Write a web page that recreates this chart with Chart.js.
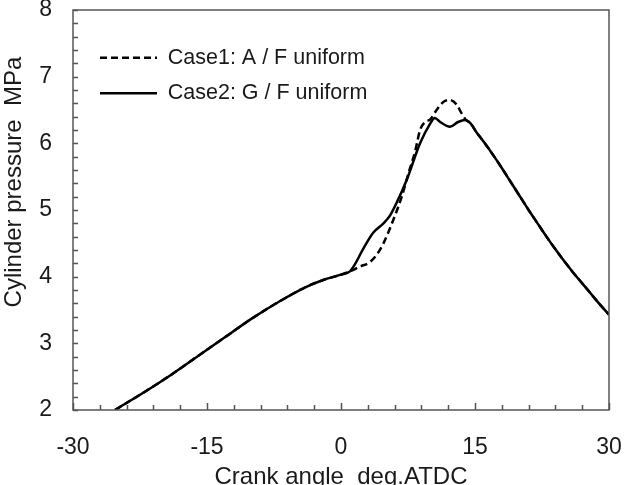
<!DOCTYPE html>
<html>
<head>
<meta charset="utf-8">
<script src="https://cdn.jsdelivr.net/npm/chart.js@4.4.0/dist/chart.umd.min.js"></script>
<style>
  html, body { margin: 0; padding: 0; overflow: hidden; background: #fff; }
</style>
</head>
<body>
<canvas id="pressure" width="628" height="492"></canvas>
<script>
// Crank angle (deg ATDC) and cylinder pressure (MPa)
const angleCase1 = [-25.3, -22, -19, -16, -13, -10, -7, -4, -2, 0, 1, 2.1, 3.25, 4.0, 4.75, 5.85, 6.8, 7.55, 8.3, 8.85, 9.4, 10.0, 10.7, 11.45, 12.2, 12.95, 13.5, 14.0, 14.5, 15.2, 16, 17, 18, 19, 20, 21, 22, 23, 24, 25, 26, 27, 28, 29, 30];
const pressureCase1 = [2.0, 2.27, 2.53, 2.81, 3.09, 3.37, 3.62, 3.84, 3.95, 4.03, 4.08, 4.15, 4.22, 4.33, 4.5, 4.85, 5.2, 5.55, 5.88, 6.2, 6.32, 6.36, 6.5, 6.62, 6.65, 6.58, 6.45, 6.35, 6.3, 6.16, 6.02, 5.83, 5.63, 5.42, 5.21, 5.0, 4.8, 4.6, 4.41, 4.23, 4.06, 3.9, 3.74, 3.58, 3.43];

const angleCase2 = [-25.3, -22, -19, -16, -13, -10, -7, -4, -2, 0, 1, 1.4, 2.5, 3.6, 4.75, 5.5, 6.2, 7.35, 8.85, 10.0, 10.5, 11.1, 12.2, 13.1, 13.9, 14.5, 15.2, 16, 17, 18, 19, 20, 21, 22, 23, 24, 25, 26, 27, 28, 29, 30];
const pressureCase2 = [2.0, 2.27, 2.53, 2.81, 3.09, 3.37, 3.62, 3.84, 3.95, 4.03, 4.08, 4.15, 4.42, 4.66, 4.8, 4.92, 5.1, 5.45, 6.0, 6.3, 6.38, 6.32, 6.25, 6.32, 6.35, 6.3, 6.16, 6.02, 5.83, 5.63, 5.42, 5.21, 5.0, 4.8, 4.6, 4.41, 4.23, 4.06, 3.9, 3.74, 3.58, 3.43];

const seriesLabels = ['Case1: A / F uniform', 'Case2: G / F uniform'];

const fontFamily = "'Liberation Sans', Arial, sans-serif";

const toPoints = (xs, ys) => xs.map((x, i) => ({ x: x, y: ys[i] }));

// inward tick marks and the frame round the plot area
const frameTicks = {
    id: 'frameTicks',
    afterDraw(chart) {
        const { ctx, chartArea: a, scales: { x, y } } = chart;
        ctx.save();
        ctx.strokeStyle = '#555';
        ctx.lineWidth = 1.5;
        ctx.beginPath();
        x.ticks.forEach(t => {
            const px = Math.round(x.getPixelForValue(t.value)) + 0.5;
            const len = t.value % 15 === 0 ? 7 : 5;
            ctx.moveTo(px, a.bottom);
            ctx.lineTo(px, a.bottom - len);
        });
        y.ticks.forEach(t => {
            const py = Math.round(y.getPixelForValue(t.value)) + 0.5;
            ctx.moveTo(a.left, py);
            ctx.lineTo(a.left + 5, py);
        });
        ctx.stroke();
        ctx.strokeRect(a.left, a.top, a.right - a.left, a.bottom - a.top);
        ctx.restore();
    }
};

// put the legend block where it sits in the original
const legendPlace = {
    id: 'legendPlace',
    afterLayout(chart) {
        chart.legend.left = 86;
        chart.legend.top = 33;
    }
};

const ctx = document.getElementById('pressure').getContext('2d');
const pressureChart = new Chart(ctx, {
    type: 'line',
    data: {
        datasets: [{
            label: seriesLabels[0],
            data: toPoints(angleCase1, pressureCase1),
            borderColor: '#000',
            borderWidth: 2.5,
            borderDash: [7, 4],
            pointRadius: 0,
            fill: false,
            cubicInterpolationMode: 'monotone'
        }, {
            label: seriesLabels[1],
            data: toPoints(angleCase2, pressureCase2),
            borderColor: '#000',
            borderWidth: 2.5,
            pointRadius: 0,
            fill: false,
            cubicInterpolationMode: 'monotone'
        }]
    },
    options: {
        responsive: false,
        animation: false,
        layout: { padding: { left: 0, top: 10, right: 19, bottom: 0 } },
        plugins: {
            tooltip: { enabled: false },
            legend: {
                position: 'chartArea',
                align: 'start',
                labels: {
                    usePointStyle: true,
                    pointStyle: 'line',
                    pointStyleWidth: 57,
                    padding: 14,
                    color: '#1a1a1a',
                    font: { family: fontFamily, size: 21.5 },
                    // keep the dash pattern of each dataset in its legend line
                    generateLabels: chart => Chart.defaults.plugins.legend.labels.generateLabels(chart)
                        .map((item, i) => Object.assign(item, {
                            lineDash: chart.data.datasets[i].borderDash || [],
                            lineWidth: 2.5,
                            strokeStyle: '#000'
                        }))
                }
            }
        },
        scales: {
            x: {
                type: 'linear',
                min: -30,
                max: 30,
                grid: { display: false, drawTicks: true, tickLength: 28 },
                border: { display: false },
                afterFit: scale => { scale.height = 492 - 410; },
                ticks: {
                    stepSize: 3,
                    autoSkip: false,
                    maxRotation: 0,
                    padding: 0,
                    color: '#1a1a1a',
                    font: { family: fontFamily, size: 23, lineHeight: 0.85 },
                    callback: v => (v % 15 === 0 ? String(v) : '')
                },
                title: {
                    display: true,
                    text: 'Crank angle  deg.ATDC',
                    color: '#1a1a1a',
                    padding: 0,
                    font: { family: fontFamily, size: 24 }
                }
            },
            y: {
                min: 2,
                max: 8,
                grid: { display: false, drawTicks: true, tickLength: 21 },
                border: { display: false },
                afterFit: scale => { scale.width = 73; },
                ticks: {
                    stepSize: 0.2,
                    autoSkip: false,
                    padding: 0,
                    color: '#1a1a1a',
                    font: { family: fontFamily, size: 23, lineHeight: 0.85 },
                    callback: v => (Math.abs(v - Math.round(v)) < 1e-6 ? String(Math.round(v)) : '')
                },
                title: {
                    display: true,
                    align: 'end',
                    text: 'Cylinder pressure  MPa       ',
                    color: '#1a1a1a',
                    padding: 0,
                    font: { family: fontFamily, size: 24 }
                }
            }
        }
    },
    plugins: [frameTicks, legendPlace]
});
</script>
</body>
</html>
